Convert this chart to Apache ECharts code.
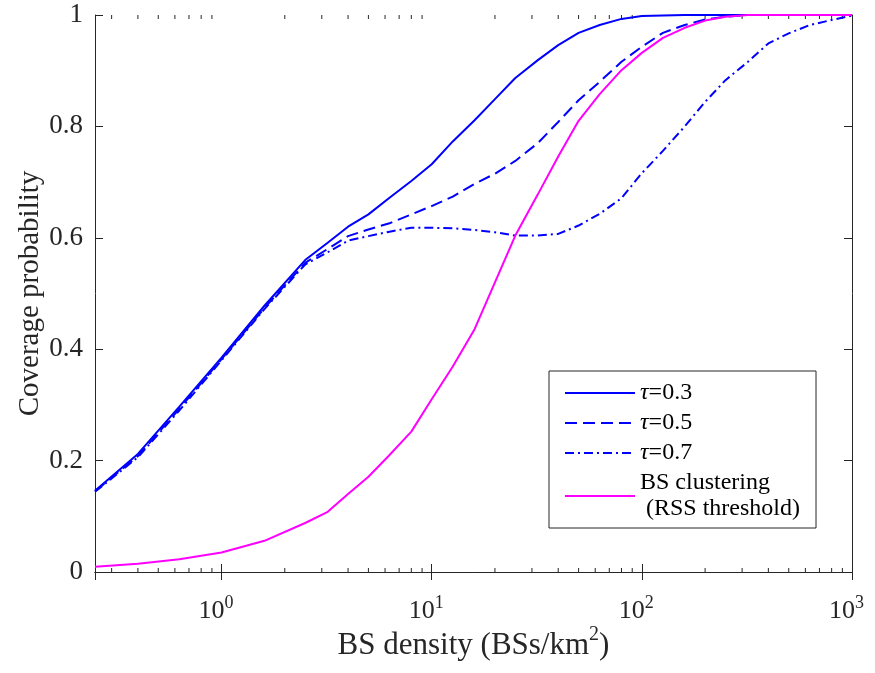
<!DOCTYPE html>
<html>
<head>
<meta charset="utf-8">
<script src="https://cdn.jsdelivr.net/npm/echarts@6/dist/echarts.min.js"></script>
<style>html,body{margin:0;padding:0;background:#fff}#c{width:875px;height:673px}</style>
</head>
<body>
<div id="c"></div>
<script>
var xDensity = [0.25, 0.4, 0.63, 1, 1.6, 2.5, 3.2, 4, 5, 6.3, 8, 10, 12.6, 16, 20, 25, 32, 40, 50, 63, 80, 100, 126, 160, 200, 250, 320, 400, 500, 630, 800, 1000];
var tau03 = [0.146, 0.212, 0.297, 0.385, 0.478, 0.560, 0.591, 0.620, 0.642, 0.672, 0.702, 0.732, 0.773, 0.811, 0.849, 0.887, 0.919, 0.946, 0.968, 0.982, 0.993, 0.998, 0.999, 1, 1, 1, 1, 1, 1, 1, 1, 1];
var tau05 = [0.145, 0.208, 0.293, 0.382, 0.474, 0.555, 0.580, 0.603, 0.615, 0.626, 0.642, 0.657, 0.674, 0.697, 0.715, 0.738, 0.770, 0.808, 0.847, 0.880, 0.916, 0.943, 0.968, 0.982, 0.992, 0.997, 1, 1, 1, 1, 1, 1];
var tau07 = [0.144, 0.206, 0.290, 0.380, 0.472, 0.552, 0.574, 0.595, 0.603, 0.611, 0.618, 0.618, 0.617, 0.614, 0.610, 0.604, 0.604, 0.607, 0.622, 0.643, 0.671, 0.716, 0.756, 0.800, 0.844, 0.883, 0.916, 0.949, 0.967, 0.982, 0.991, 0.999];
var clustering = [0.0095, 0.015, 0.023, 0.035, 0.056, 0.088, 0.108, 0.140, 0.171, 0.210, 0.252, 0.310, 0.369, 0.436, 0.520, 0.604, 0.678, 0.746, 0.810, 0.858, 0.901, 0.932, 0.959, 0.977, 0.990, 0.997, 1, 1, 1, 1, 1, 1];
var yTicks = [0, 0.2, 0.4, 0.6, 0.8, 1];
var seriesNames = ['τ=0.3', 'τ=0.5', 'τ=0.7', 'BS clustering'];

function pairs(ys) { return xDensity.map(function (x, i) { return [x, ys[i]]; }); }

var minorTicks = [];
for (var k = -1; k <= 2; k++) {
  for (var m = 2; m <= 9; m++) {
    var v = m * Math.pow(10, k);
    if (v > 0.25 && v < 1000) minorTicks.push([v, 0]);
  }
}

var FONT = "'Liberation Serif', 'DejaVu Serif', serif";
var AX = '#262626';

var chart = echarts.init(document.getElementById('c'), null, {renderer: 'canvas'});
chart.setOption({
  backgroundColor: '#fff',
  animation: false,
  grid: {left: 95, right: 23, top: 15, bottom: 101, show: false, containLabel: false, outerBoundsMode: 'none'},
  legend: {
    data: seriesNames,
    orient: 'vertical',
    left: 549, top: 371,
    itemWidth: 70, itemHeight: 14, itemGap: 4,
    backgroundColor: '#fff', borderColor: AX, borderWidth: 1, borderRadius: 0,
    padding: [9, 16, 6, 15],
    itemStyle: {opacity: 0},
    textStyle: {fontFamily: FONT, fontSize: 24, color: '#000', lineHeight: 26,
      rich: {i: {fontFamily: FONT, fontStyle: 'italic', fontSize: 24, color: '#000', lineHeight: 26}}},
    formatter: function (n) {
      if (n === 'BS clustering') return 'BS clustering\n (RSS threshold)';
      return '{i|τ}' + n.slice(1);
    }
  },
  xAxis: [{
    type: 'log', logBase: 10, min: 0.25, max: 1000,
    name: '{n|BS density (BSs/km}{s|2}{n|)}',
    nameLocation: 'middle', nameGap: 53, nameMoveOverlap: false,
    nameTextStyle: {rich: {
      n: {fontFamily: FONT, fontSize: 31, color: '#262626', verticalAlign: 'bottom', lineHeight: 36},
      s: {fontFamily: FONT, fontSize: 20, color: '#262626', verticalAlign: 'top', lineHeight: 30}
    }},
    axisLine: {show: true, lineStyle: {color: AX, width: 1}},
    axisTick: {show: true, inside: true, length: 8, lineStyle: {color: AX}},
    splitLine: {show: false},
    axisLabel: {
      margin: 22, showMinLabel: false,
      formatter: function (v) {
        var e = Math.round(Math.log10(v));
        if (Math.abs(Math.pow(10, e) - v) > 1e-6 * v) return '';
        return '{b|10}{s|' + e + '}';
      },
      rich: {
        b: {fontFamily: FONT, fontSize: 26, color: '#262626', verticalAlign: 'bottom', lineHeight: 30},
        s: {fontFamily: FONT, fontSize: 18, color: '#262626', verticalAlign: 'top', lineHeight: 22, padding: [0, 11, 0, 0]}
      }
    }
  }, {
    type: 'log', logBase: 10, min: 0.25, max: 1000, position: 'top',
    axisLine: {show: true, lineStyle: {color: AX, width: 1}},
    axisTick: {show: true, inside: true, length: 8, lineStyle: {color: AX}},
    axisLabel: {show: false}, splitLine: {show: false}
  }],
  yAxis: [{
    type: 'value', min: 0, max: 1, interval: 0.2,
    name: 'Coverage probability', nameLocation: 'middle', nameGap: 50, nameMoveOverlap: false,
    nameTextStyle: {fontFamily: FONT, fontSize: 29, color: '#262626'},
    axisLine: {show: true, lineStyle: {color: AX, width: 1}},
    axisTick: {show: true, inside: true, length: 8, lineStyle: {color: AX}},
    splitLine: {show: false},
    axisLabel: {
      margin: 12, fontFamily: FONT, fontSize: 27, color: '#262626',
      formatter: function (v) {
        for (var i = 0; i < yTicks.length; i++) {
          if (Math.abs(yTicks[i] - v) < 1e-9) return (v === 0 || v === 1) ? String(v) : v.toFixed(1);
        }
        return '';
      }
    }
  }, {
    type: 'value', min: 0, max: 1, interval: 0.2, position: 'right',
    axisLine: {show: true, lineStyle: {color: AX, width: 1}},
    axisTick: {show: true, inside: true, length: 8, lineStyle: {color: AX}},
    axisLabel: {show: false}, splitLine: {show: false}
  }],
  series: [
    {
      type: 'custom', name: 'minor', silent: true, clip: false, z: 1,
      xAxisIndex: 0, yAxisIndex: 0,
      data: minorTicks,
      renderItem: function (params, api) {
        var b = api.coord([api.value(0), 0]);
        var t = api.coord([api.value(0), 1]);
        var st = {stroke: AX, lineWidth: 1};
        return {type: 'group', children: [
          {type: 'line', shape: {x1: b[0], y1: b[1], x2: b[0], y2: b[1] - 4}, style: st},
          {type: 'line', shape: {x1: t[0], y1: t[1], x2: t[0], y2: t[1] + 4}, style: st}
        ]};
      }
    },
    {name: seriesNames[0], type: 'line', data: pairs(tau03), symbol: 'none', smooth: false,
      lineStyle: {color: '#0000ff', width: 2, type: 'solid'}, itemStyle: {color: '#0000ff'}, z: 5},
    {name: seriesNames[1], type: 'line', data: pairs(tau05), symbol: 'none',
      lineStyle: {color: '#0000ff', width: 2, type: [12, 6]}, itemStyle: {color: '#0000ff'}, z: 5},
    {name: seriesNames[2], type: 'line', data: pairs(tau07), symbol: 'none',
      lineStyle: {color: '#0000ff', width: 2, type: [9, 4, 2, 4]}, itemStyle: {color: '#0000ff'}, z: 5},
    {name: seriesNames[3], type: 'line', data: pairs(clustering), symbol: 'none',
      lineStyle: {color: '#ff00ff', width: 2, type: 'solid'}, itemStyle: {color: '#ff00ff'}, z: 6}
  ]
});
</script>
</body>
</html>
